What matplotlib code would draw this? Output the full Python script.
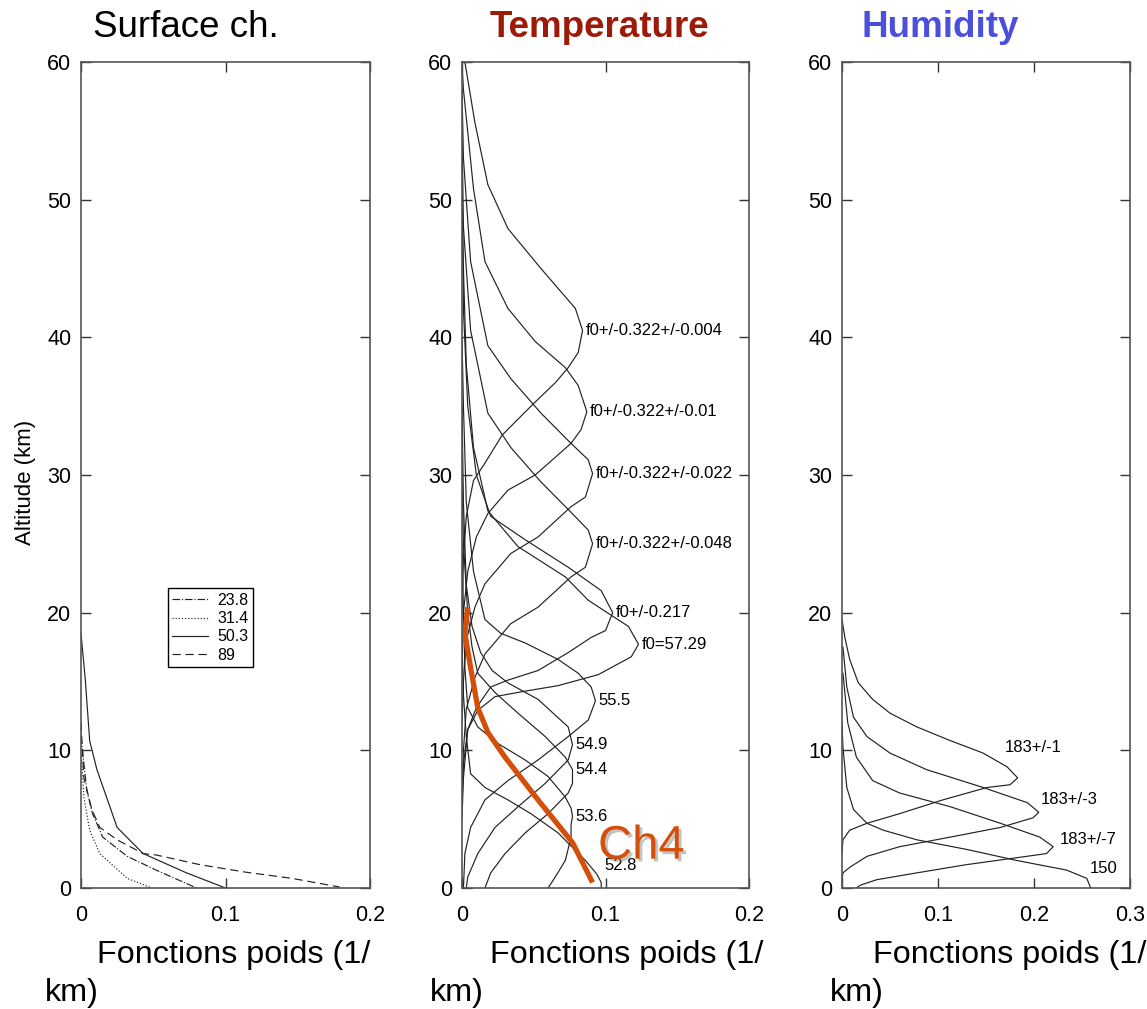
import matplotlib
matplotlib.use("Agg")
import matplotlib.pyplot as plt
import matplotlib.patheffects as pe

plt.rcParams['font.family'] = ['Liberation Sans', 'DejaVu Sans']

# ---- surface channels (GHz) ----
surf_labels = ["23.8", "31.4", "50.3", "89"]
s238_z = [11, 7.1, 5.4, 3.7, 2.3, 1.3, 0]
s238_w = [0, 0.004, 0.008, 0.015, 0.032, 0.052, 0.080]
s314_z = [10, 6.6, 4.2, 2.5, 0.7, 0]
s314_w = [0, 0.002, 0.006, 0.013, 0.032, 0.049]
s503_z = [18.5, 15.1, 10.7, 8.6, 4.4, 2.5, 1.1, 0]
s503_w = [0, 0.003, 0.006, 0.011, 0.025, 0.043, 0.073, 0.100]
s89_z = [12, 8, 5.7, 4.4, 3.5, 2.5, 2.4, 1.7, 1.15, 0.7, 0.07]
s89_w = [0, 0.002, 0.0075, 0.013, 0.025, 0.043, 0.052, 0.082, 0.114, 0.146, 0.179]

# ---- temperature channels ----
temp_labels = ["f0+/-0.322+/-0.004", "f0+/-0.322+/-0.01", "f0+/-0.322+/-0.022",
               "f0+/-0.322+/-0.048", "f0+/-0.217", "f0=57.29", "55.5", "54.9",
               "54.4", "53.6", "52.8"]
t1_z = [60, 55.6, 51.1, 47.9, 45.0, 42.1, 40.5, 38.9, 37.8, 36.7, 35.2, 32.9, 30.7, 29.6, 27.0, 24.0, 20.0]
t1_w = [0.002, 0.009, 0.018, 0.032, 0.055, 0.079, 0.084, 0.081, 0.074, 0.065, 0.050, 0.028, 0.015, 0.008, 0.003, 0.001, 0.0]
t2_z = [60, 58, 50.8, 45.5, 42.1, 39.7, 37.8, 36.5, 34.6, 33.3, 32.3, 30.0, 28.9, 27.2, 25.5, 23.0, 20.0, 16]
t2_w = [0.0, 0.001, 0.008, 0.016, 0.032, 0.051, 0.072, 0.081, 0.087, 0.083, 0.076, 0.051, 0.032, 0.018, 0.010, 0.004, 0.001, 0]
t3_z = [58, 53, 45.5, 39.4, 37.0, 34.5, 32.5, 31.1, 30.1, 28.4, 27.7, 25.5, 24.3, 22.1, 20.4, 18.0, 15.0, 12]
t3_w = [0, 0.001, 0.006, 0.018, 0.034, 0.055, 0.074, 0.088, 0.091, 0.086, 0.076, 0.053, 0.034, 0.016, 0.009, 0.003, 0.001, 0]
t4_z = [55, 48, 40.5, 34.5, 32.0, 29.5, 27.5, 26.0, 25.0, 23.3, 22.6, 20.4, 19.2, 17.0, 15.3, 13.0, 10.0, 7]
t4_w = [0, 0.001, 0.006, 0.018, 0.034, 0.055, 0.074, 0.088, 0.091, 0.086, 0.076, 0.053, 0.034, 0.016, 0.009, 0.003, 0.001, 0]
t5_z = [52, 42, 35, 30, 27, 25.3, 23.3, 21.6, 20.0, 18.7, 18.2, 17.1, 15.8, 15.1, 14.6, 13.1, 11.5, 8, 5]
t5_w = [0, 0.001, 0.004, 0.010, 0.020, 0.044, 0.074, 0.097, 0.105, 0.100, 0.090, 0.074, 0.053, 0.032, 0.020, 0.010, 0.004, 0.001, 0]
t6_z = [50, 45, 38, 32, 27.4, 24.8, 22.6, 20.9, 19.0, 17.7, 16.8, 15.5, 14.7, 14.3, 13.9, 12.9, 11.5, 9, 6]
t6_w = [0, 0.001, 0.003, 0.008, 0.018, 0.039, 0.072, 0.088, 0.116, 0.123, 0.118, 0.095, 0.067, 0.044, 0.023, 0.011, 0.004, 0.001, 0]
t7_z = [40, 35, 28, 23, 19.5, 18.5, 17.8, 16.6, 15.6, 14.6, 13.6, 12.2, 11.0, 9.3, 7.8, 6.4, 4.4, 2.5, 0]
t7_w = [0, 0.001, 0.003, 0.008, 0.016, 0.027, 0.044, 0.067, 0.081, 0.090, 0.093, 0.088, 0.074, 0.053, 0.032, 0.016, 0.006, 0.002, 0.001]
t8_z = [35, 28, 22, 19, 17.1, 15.8, 14.9, 13.7, 11.7, 10.4, 9.3, 7.6, 5.9, 4.4, 2.5, 0.8, 0]
t8_w = [0, 0.001, 0.003, 0.007, 0.013, 0.021, 0.032, 0.053, 0.074, 0.077, 0.074, 0.058, 0.039, 0.023, 0.011, 0.004, 0.003]
t9_z = [30, 25, 20, 17.5, 15.6, 14.2, 12.7, 11.0, 9.5, 8.6, 8.1, 7.6, 6.9, 5.4, 4.0, 2.5, 1.1, 0]
t9_w = [0, 0.001, 0.004, 0.007, 0.011, 0.023, 0.039, 0.058, 0.072, 0.077, 0.077, 0.077, 0.074, 0.060, 0.044, 0.030, 0.020, 0.016]
t10_z = [25, 20, 16, 13.1, 11.7, 10.5, 9.3, 8.1, 6.6, 5.8, 5.2, 4.6, 3.7, 2.0, 0.8, 0]
t10_w = [0, 0.001, 0.002, 0.004, 0.011, 0.025, 0.044, 0.060, 0.072, 0.076, 0.077, 0.076, 0.076, 0.072, 0.065, 0.060]
t11_z = [18, 14, 11, 8.3, 7.3, 6.4, 5.4, 4.0, 2.0, 1.0, 0.4, 0]
t11_w = [0, 0.001, 0.003, 0.006, 0.016, 0.032, 0.048, 0.067, 0.086, 0.094, 0.097, 0.097]

ch4_z = [20.4, 18.5, 16.0, 13.1, 11.3, 9.5, 6.4, 3.3, 0.4]
ch4_w = [0.004, 0.002, 0.006, 0.011, 0.018, 0.030, 0.053, 0.077, 0.091]

# ---- humidity channels ----
hum_labels = ["183+/-1", "183+/-3", "183+/-7", "150"]
h1_z = [19.5, 18.2, 16.6, 14.9, 13.7, 12.7, 11.7, 10.7, 9.8, 8.8, 8.0, 7.5, 7.3, 6.4, 5.4, 4.7, 4.2, 3.5, 2.5]
h1_w = [0.0, 0.003, 0.008, 0.017, 0.032, 0.050, 0.078, 0.113, 0.147, 0.172, 0.183, 0.175, 0.151, 0.105, 0.060, 0.026, 0.008, 0.001, 0.0]
h2_z = [17.5, 14.6, 12.4, 11.0, 9.8, 8.6, 7.3, 6.2, 5.5, 5.1, 4.4, 3.7, 3.0, 2.3, 1.5, 1.1, 0.6]
h2_w = [0.001, 0.005, 0.012, 0.026, 0.050, 0.088, 0.147, 0.193, 0.205, 0.199, 0.165, 0.113, 0.060, 0.026, 0.008, 0.001, 0.0]
h3_z = [15.6, 12.0, 9.5, 7.8, 6.9, 5.9, 4.7, 3.7, 3.0, 2.5, 2.2, 1.7, 1.1, 0.6, 0.2, 0]
h3_w = [0.001, 0.006, 0.015, 0.032, 0.060, 0.113, 0.165, 0.206, 0.220, 0.213, 0.182, 0.130, 0.078, 0.036, 0.019, 0.015]
h4_z = [12, 10.2, 7.3, 5.7, 4.7, 4.2, 3.5, 2.8, 2.0, 1.3, 0.7, 0]
h4_w = [0, 0.001, 0.005, 0.012, 0.026, 0.043, 0.078, 0.130, 0.182, 0.234, 0.255, 0.259]
hum_label_xy = [(0.170, 10.2), (0.207, 6.4), (0.227, 3.5), (0.258, 1.45)]

W, H = 1147, 1009
fig = plt.figure(figsize=(W / 100, H / 100), dpi=100)


def make_ax(left_px, right_px, xmax, xticks):
    ax = fig.add_axes([left_px / W, (H - 888) / H, (right_px - left_px) / W, (888 - 62) / H])
    ax.set_xlim(0, xmax)
    ax.set_ylim(0, 60)
    ax.set_xticks(xticks)
    ax.set_xticklabels([("%g" % t) for t in xticks])
    ax.set_yticks([0, 10, 20, 30, 40, 50, 60])
    ax.tick_params(direction='in', length=7, width=1, top=True, right=True,
                   labelsize=15.5, color='#333333', pad=7)
    ax.tick_params(axis='x', pad=12)
    for sp in ax.spines.values():
        sp.set_color('#555555')
        sp.set_linewidth(1.2)
    return ax


lc = '#222222'
lw = 0.85

# panel 1
ax1 = make_ax(81, 370, 0.2, [0, 0.1, 0.2])
ax1.plot(s238_w, s238_z, color=lc, lw=lw, ls='-.', label=surf_labels[0])
ax1.plot(s314_w, s314_z, color=lc, lw=lw, ls=':', label=surf_labels[1])
ax1.plot(s503_w, s503_z, color=lc, lw=lw, ls='-', label=surf_labels[2])
ax1.plot(s89_w, s89_z, color=lc, lw=lw, ls=(0, (7, 4)), label=surf_labels[3])
leg = ax1.legend(loc='upper left', bbox_to_anchor=(0.30, 0.363), borderaxespad=0,
                 fontsize=11.5, handlelength=2.2, labelspacing=0.2, fancybox=False,
                 framealpha=1, borderpad=0.3, handletextpad=0.6)
leg.get_frame().set_edgecolor('black')
leg.get_frame().set_linewidth(1)

# panel 2
ax2 = make_ax(462, 749, 0.2, [0, 0.1, 0.2])
temp_z = [t1_z, t2_z, t3_z, t4_z, t5_z, t6_z, t7_z, t8_z, t9_z, t10_z, t11_z]
temp_w = [t1_w, t2_w, t3_w, t4_w, t5_w, t6_w, t7_w, t8_w, t9_w, t10_w, t11_w]
for zs, ws, lab in zip(temp_z, temp_w, temp_labels):
    ax2.plot(ws, zs, color=lc, lw=lw)
    i = ws.index(max(ws))
    ax2.text(ws[i] + 0.002, max(zs[i], 1.6), lab, fontsize=12, va='center', ha='left')
ax2.plot(ch4_w, ch4_z, color='#d4500a', lw=3.8, solid_capstyle='butt')
ax2.text(0.125, 3.0, "Ch4", color='#d4500a', fontsize=34, ha='center', va='center',
         path_effects=[pe.withSimplePatchShadow(offset=(2, -2), shadow_rgbFace='#888888', alpha=0.5)])

# panel 3
ax3 = make_ax(842, 1130, 0.3, [0, 0.1, 0.2, 0.3])
hum_z = [h1_z, h2_z, h3_z, h4_z]
hum_w = [h1_w, h2_w, h3_w, h4_w]
for zs, ws, lab, (lx, ly) in zip(hum_z, hum_w, hum_labels, hum_label_xy):
    ax3.plot(ws, zs, color=lc, lw=lw)
    ax3.text(lx, ly, lab, fontsize=12, va='center', ha='left')

# titles
fig.text(93 / W, 1 - 37 / H, "Surface ch.", fontsize=26.5, color='black')
fig.text(490 / W, 1 - 37 / H, "Temperature", fontsize=26.5, fontweight='bold', color='#9c1a08')
fig.text(862 / W, 1 - 37 / H, "Humidity", fontsize=26.5, fontweight='bold', color='#4a4fdc')

# x labels (wrapped like the original)
for x1, x2 in [(97, 45), (490, 430), (873, 830)]:
    fig.text(x1 / W, 1 - 963 / H, "Fonctions poids (1/", fontsize=23.3)
    fig.text(x2 / W, 1 - 1001 / H, "km)", fontsize=23.3)

fig.text(25 / W, 1 - 482 / H, "Altitude (km)", fontsize=16, rotation=90, ha='center', va='center')

fig.savefig("out.png", dpi=100)
